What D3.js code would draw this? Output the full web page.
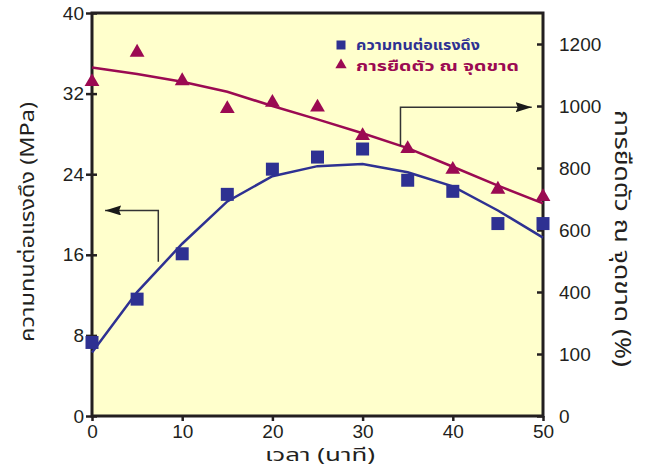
<!DOCTYPE html>
<html>
<head>
<meta charset="utf-8">
<script src="https://cdn.jsdelivr.net/npm/d3@7"></script>
<style>
  body { margin: 0; background: #fff; }
  text { font-family: "Liberation Sans", Arial, sans-serif; }
  .thai { font-family: "Noto Sans Thai", "Tahoma", "Loma", "Garuda", sans-serif; }
</style>
</head>
<body>
<div id="chart"></div>
<script>
var times = [0, 5, 10, 15, 20, 25, 30, 35, 40, 45, 50];
// tensile strength (MPa), left axis
var strength = [7.3, 11.6, 16.1, 22.0, 24.5, 25.7, 26.5, 23.4, 22.3, 19.1, 19.1];
var strengthFit = [6.3, 12.3, 17.1, 21.3, 23.8, 24.8, 25.0, 24.2, 22.8, 20.4, 17.7];
// elongation at break (%), right axis
var elongation = [1078, 1173, 1081, 991, 1011, 996, 904, 862, 795, 731, 707];
var elongationFit = [1124, 1103, 1078, 1046, 1000, 957, 912, 864, 804, 743, 686];

var xTicks = [0, 10, 20, 30, 40, 50];
var leftTicks = [0, 8, 16, 24, 32, 40];
var rightTicks = [0, 200, 400, 600, 800, 1000, 1200];
var rightTickLabels = ["0", "100", "400", "600", "800", "1000", "1200"];

var seriesNames = ["ความทนต่อแรงดึง", "การยืดตัว ณ จุดขาด"];
var xTitle = "เวลา (นาที)";
var leftTitle = "ความทนต่อแรงดึง (MPa)";
var rightTitle = "การยืดตัว ณ จุดขาด (%)";

var blue = '#2e3192', red = '#9b0a52', frame = '#231f20';

var svg = d3.select('#chart')
    .append('svg')
    .attr('width', 650)
    .attr('height', 472);

var x = d3.scaleLinear().domain([0, 50]).range([92, 543]);
var yL = d3.scaleLinear().domain([0, 40]).range([416, 13]);
var yR = d3.scaleLinear().domain([0, 1300]).range([416, 13]);

// plot background
svg.append('rect')
    .attr('x', x(0)).attr('y', yL(40))
    .attr('width', x(50) - x(0)).attr('height', yL(0) - yL(40))
    .style('fill', '#ffffcc');

function styleAxis(g) {
    g.select('.domain').remove();
    g.selectAll('.tick line').style('stroke', frame).style('stroke-width', 2.5);
    g.selectAll('.tick text').style('font-size', '19px').style('fill', '#231f20')
        .style('font-family', '"Liberation Sans", Arial, sans-serif');
}

svg.append('g')
    .attr('transform', 'translate(0,' + yL(0) + ')')
    .call(d3.axisBottom(x).tickValues(xTicks).tickSize(5).tickPadding(4))
    .call(styleAxis);

svg.append('g')
    .attr('transform', 'translate(' + x(0) + ',0)')
    .call(d3.axisLeft(yL).tickValues(leftTicks).tickSize(6).tickPadding(2))
    .call(styleAxis);

// inner half of the left ticks
svg.append('g')
    .attr('transform', 'translate(' + x(0) + ',0)')
    .call(d3.axisRight(yL).tickValues(leftTicks).tickSize(5).tickFormat(''))
    .call(styleAxis);

svg.append('g')
    .attr('transform', 'translate(' + x(50) + ',0)')
    .call(d3.axisRight(yR).tickValues(rightTicks).tickSize(-6).tickPadding(16)
        .tickFormat(function (d, i) { return rightTickLabels[i]; }))
    .call(styleAxis);

svg.append('rect')
    .attr('x', x(0)).attr('y', yL(40))
    .attr('width', x(50) - x(0)).attr('height', yL(0) - yL(40))
    .style('fill', 'none')
    .style('stroke', frame)
    .style('stroke-width', 3);

// fitted curves
var lineL = d3.line()
    .x(function (d, i) { return x(times[i]); })
    .y(function (d) { return yL(d); });
var lineR = d3.line()
    .x(function (d, i) { return x(times[i]); })
    .y(function (d) { return yR(d); });

svg.append('path').datum(elongationFit)
    .attr('d', lineR)
    .style('fill', 'none').style('stroke', red).style('stroke-width', 2.5);

svg.append('path').datum(strengthFit)
    .attr('d', lineL)
    .style('fill', 'none').style('stroke', blue).style('stroke-width', 2.5);

// markers
svg.selectAll('.tri')
    .data(elongation)
    .enter().append('path')
    .attr('class', 'tri')
    .attr('d', d3.symbol().type(d3.symbolTriangle).size(95))
    .attr('transform', function (d, i) { return 'translate(' + x(times[i]) + ',' + yR(d) + ')'; })
    .style('fill', red);

svg.selectAll('.sq')
    .data(strength)
    .enter().append('path')
    .attr('class', 'sq')
    .attr('d', d3.symbol().type(d3.symbolSquare).size(169))
    .attr('transform', function (d, i) { return 'translate(' + x(times[i]) + ',' + yL(d) + ')'; })
    .style('fill', blue);

// arrows pointing at the axis each curve belongs to
var defs = svg.append('defs');
defs.append('marker')
    .attr('id', 'head')
    .attr('viewBox', '0 0 16 10')
    .attr('refX', 16).attr('refY', 5)
    .attr('markerWidth', 16).attr('markerHeight', 10)
    .attr('markerUnits', 'userSpaceOnUse')
    .attr('orient', 'auto')
    .append('path')
    .attr('d', 'M0,0 L16,5 L0,10 L2,5 Z')
    .style('fill', '#1a1a1a');

var arrow = d3.line();
svg.append('path')
    .attr('d', arrow([[x(7.35), yL(15.3)], [x(7.35), yL(20.4)], [x(1.45), yL(20.4)]]))
    .attr('marker-end', 'url(#head)')
    .style('fill', 'none').style('stroke', '#333').style('stroke-width', 1.5);

svg.append('path')
    .attr('d', arrow([[x(34.2), yR(871)], [x(34.2), yR(996)], [x(48.75), yR(996)]]))
    .attr('marker-end', 'url(#head)')
    .style('fill', 'none').style('stroke', '#333').style('stroke-width', 1.5);

// legend
var legend = svg.append('g').attr('transform', 'translate(341,0)');
legend.append('path')
    .attr('d', d3.symbol().type(d3.symbolSquare).size(81))
    .attr('transform', 'translate(0,45)')
    .style('fill', blue);
legend.append('path')
    .attr('d', d3.symbol().type(d3.symbolTriangle).size(55))
    .attr('transform', 'translate(0,65)')
    .style('fill', red);
legend.append('text').attr('class', 'thai')
    .attr('x', 15).attr('y', 50)
    .attr('textLength', 124).attr('lengthAdjust', 'spacingAndGlyphs')
    .style('font-size', '14px').style('font-weight', 'bold').style('fill', blue)
    .text(seriesNames[0]);
legend.append('text').attr('class', 'thai')
    .attr('x', 15).attr('y', 71)
    .attr('textLength', 163).attr('lengthAdjust', 'spacingAndGlyphs')
    .style('font-size', '14px').style('font-weight', 'bold').style('fill', red)
    .text(seriesNames[1]);

// axis titles
svg.append('text').attr('class', 'thai')
    .attr('x', 265).attr('y', 461)
    .attr('textLength', 110).attr('lengthAdjust', 'spacingAndGlyphs')
    .style('font-size', '18px').style('fill', '#231f20')
    .text(xTitle);

svg.append('text').attr('class', 'thai')
    .attr('transform', 'translate(34,342) rotate(-90)')
    .attr('textLength', 240).attr('lengthAdjust', 'spacingAndGlyphs')
    .style('font-size', '20px').style('fill', '#231f20')
    .text(leftTitle);

svg.append('text').attr('class', 'thai')
    .attr('transform', 'translate(615,110) rotate(90)')
    .attr('textLength', 257).attr('lengthAdjust', 'spacingAndGlyphs')
    .style('font-size', '21px').style('fill', '#231f20')
    .text(rightTitle);
</script>
</body>
</html>
